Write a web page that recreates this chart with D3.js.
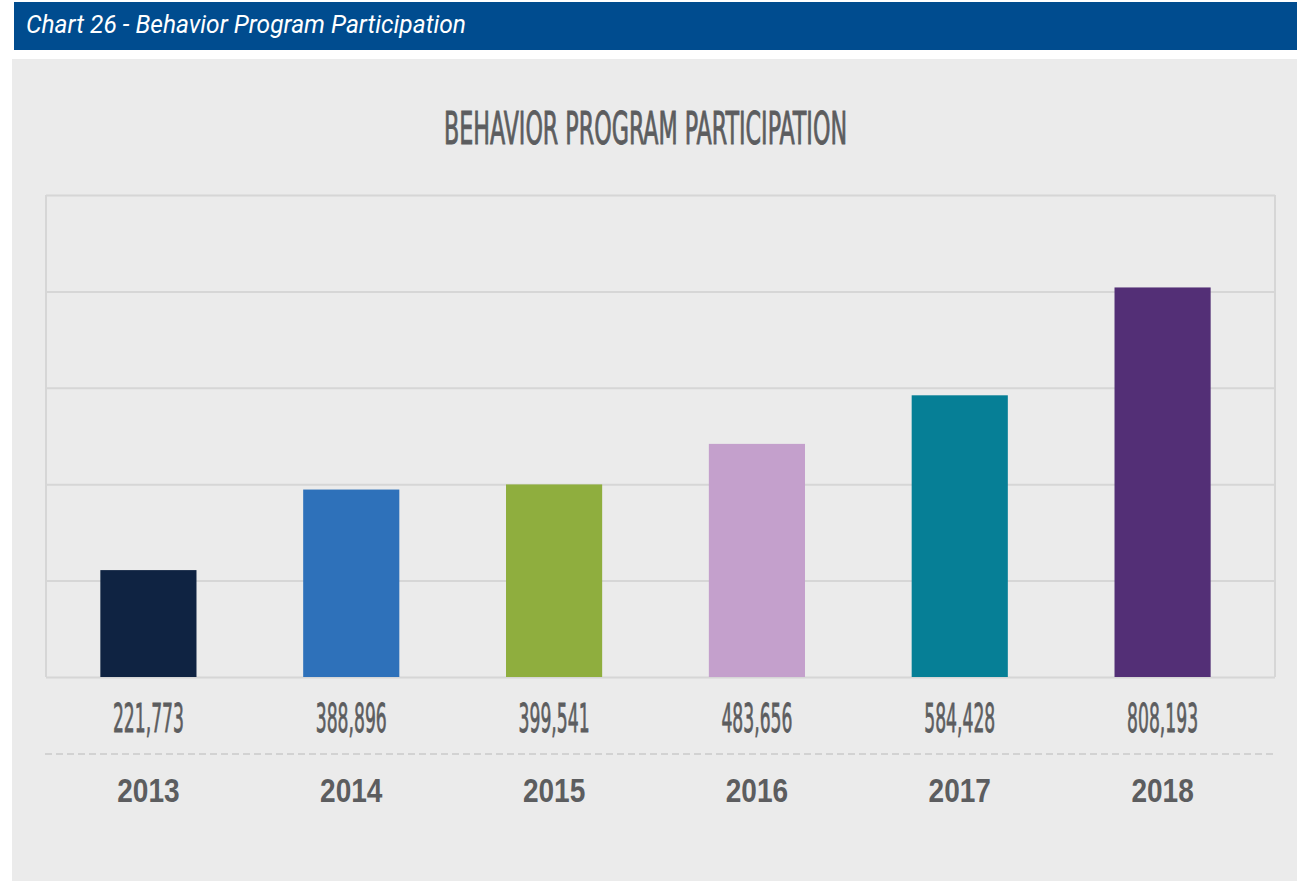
<!DOCTYPE html>
<html>
<head>
<meta charset="utf-8">
<script src="https://cdn.jsdelivr.net/npm/d3@7"></script>
<style>
  html, body { margin: 0; padding: 0; background: #fff; }
  svg { display: block; }
</style>
</head>
<body>
<div id="app"></div>
<script>
// data
const years = ['2013', '2014', '2015', '2016', '2017', '2018'];
const participants = [221773, 388896, 399541, 483656, 584428, 808193];
const barColors = ['#0f2342', '#2e71ba', '#8fae3e', '#c4a0cc', '#067f96', '#532f76'];
const yTicks = [0, 200000, 400000, 600000, 800000, 1000000];

const svgWidth = 1297;
const svgHeight = 881;
const plot = { left: 46, right: 1275, top: 195, bottom: 677 };
const textGray = '#5c5d5f';
const gridGray = '#d6d6d6';
const narrowFont = '"Liberation Sans Narrow", "DejaVu Sans Condensed", sans-serif';

const svg = d3.select('#app')
  .append('svg')
  .attr('width', svgWidth)
  .attr('height', svgHeight);

// squeeze a text to a wanted width (no really condensed font here)
const fitWidth = (sel, w) => sel.attr('textLength', w).attr('lengthAdjust', 'spacingAndGlyphs');
const condense = (sel, k) => sel.each(function () {
  const len = this.getComputedTextLength();
  d3.select(this).attr('textLength', len * k).attr('lengthAdjust', 'spacingAndGlyphs');
});

// header bar
svg.append('rect')
  .attr('x', 14).attr('y', 2)
  .attr('width', svgWidth - 14).attr('height', 48)
  .attr('fill', '#004c8f');

svg.append('text')
  .attr('x', 26).attr('y', 33)
  .attr('fill', '#fff')
  .style('font-family', 'Roboto, "Open Sans", sans-serif')
  .style('font-style', 'italic')
  .style('font-size', '25px')
  .text('Chart 26 - Behavior Program Participation')
  .call(fitWidth, 440);

// gray panel
svg.append('rect')
  .attr('x', 12).attr('y', 59)
  .attr('width', svgWidth - 12).attr('height', svgHeight - 59)
  .attr('fill', '#ebebeb');

// title
svg.append('text')
  .attr('x', 645.5).attr('y', 144)
  .attr('text-anchor', 'middle')
  .attr('fill', textGray)
  .attr('stroke', textGray)
  .attr('stroke-width', 0.9)
  .style('font-family', narrowFont)
  .style('font-size', '44px')
  .text('BEHAVIOR PROGRAM PARTICIPATION')
  .call(fitWidth, 403);

// scales
const x = d3.scaleBand()
  .domain(years)
  .range([47, 1264])
  .paddingInner(0.526)
  .paddingOuter(0.263);

const y = d3.scaleLinear()
  .domain([0, 1000000])
  .range([plot.bottom, plot.top]);

// gridlines
const yAxis = d3.axisLeft(y)
  .tickValues(yTicks)
  .tickSize(-(plot.right - plot.left))
  .tickFormat('');

const grid = svg.append('g')
  .attr('transform', `translate(${plot.left},0)`)
  .call(yAxis);
grid.select('.domain').remove();
grid.selectAll('.tick line')
  .attr('stroke', gridGray)
  .attr('stroke-width', 2);

// plot border sides
svg.append('line')
  .attr('x1', plot.left).attr('x2', plot.left)
  .attr('y1', plot.top).attr('y2', plot.bottom)
  .attr('stroke', gridGray).attr('stroke-width', 2);
svg.append('line')
  .attr('x1', plot.right).attr('x2', plot.right)
  .attr('y1', plot.top).attr('y2', plot.bottom)
  .attr('stroke', gridGray).attr('stroke-width', 2);

// bars
const rows = years.map((yr, i) => ({ year: yr, value: participants[i], color: barColors[i] }));

svg.selectAll('rect.bar')
  .data(rows)
  .enter()
  .append('rect')
  .attr('class', 'bar')
  .attr('x', d => x(d.year))
  .attr('y', d => y(d.value))
  .attr('width', x.bandwidth())
  .attr('height', d => y(0) - y(d.value))
  .attr('fill', d => d.color);

// value labels
const fmt = d3.format(',');
svg.selectAll('text.value')
  .data(rows)
  .enter()
  .append('text')
  .attr('class', 'value')
  .attr('x', d => x(d.year) + x.bandwidth() / 2)
  .attr('y', 731.5)
  .attr('text-anchor', 'middle')
  .attr('fill', textGray)
  .attr('stroke', textGray)
  .attr('stroke-width', 0.8)
  .style('font-family', narrowFont)
  .style('font-size', '39px')
  .text(d => fmt(d.value))
  .call(fitWidth, 71);

// dashed divider
svg.append('line')
  .attr('x1', 45).attr('x2', plot.right)
  .attr('y1', 754).attr('y2', 754)
  .attr('stroke', '#d2d2d2')
  .attr('stroke-width', 2)
  .attr('stroke-dasharray', '7 4');

// year labels
svg.selectAll('text.year')
  .data(rows)
  .enter()
  .append('text')
  .attr('class', 'year')
  .attr('x', d => x(d.year) + x.bandwidth() / 2)
  .attr('y', 802)
  .attr('text-anchor', 'middle')
  .attr('fill', textGray)
  .style('font-family', '"Liberation Sans", Arial, sans-serif')
  .style('font-weight', 'bold')
  .style('font-size', '33px')
  .text(d => d.year)
  .call(condense, 0.85);
</script>
</body>
</html>
